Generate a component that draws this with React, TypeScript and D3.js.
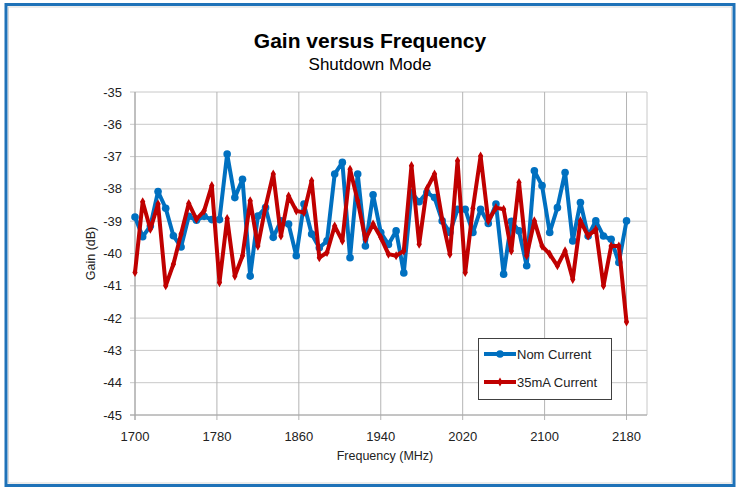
import React from "react";
import * as d3 from "d3";

const freqStart = 1700;
const freqStep = 7.5;

const nomCurrent = [
  -38.87, -39.48, -39.15, -38.08, -38.6, -39.45, -39.8, -38.85, -38.97, -38.85,
  -38.95, -38.95, -36.92, -38.27, -37.7, -40.7, -38.84, -38.58, -39.5, -38.99,
  -39.09, -40.07, -38.47, -39.4, -39.82, -39.61, -37.54, -37.18, -40.13, -37.54,
  -39.77, -38.18, -39.35, -39.72, -39.3, -40.6, -38.11, -38.4, -38.11, -38.27,
  -38.99, -39.35, -38.63, -38.63, -39.35, -38.63, -39.07, -38.47, -40.64, -39.0,
  -39.3, -40.38, -37.44, -37.9, -39.35, -38.58, -37.49, -39.61, -38.42, -39.46,
  -38.99, -39.46, -39.56, -40.28, -38.99,
];

const current35mA = [
  -40.59, -38.4, -39.25, -38.47, -41.0, -40.33, -39.4, -38.45, -38.94, -38.68,
  -37.9, -40.9, -38.92, -40.7, -40.07, -38.37, -39.77, -38.55, -37.54, -39.46,
  -38.22, -38.68, -38.73, -37.75, -40.13, -39.97, -39.15, -39.61, -37.39, -38.37,
  -39.56, -39.09, -39.5, -40.02, -40.07, -39.92, -37.28, -39.71, -38.0, -37.54,
  -38.94, -40.02, -37.13, -40.59, -38.6, -36.98, -38.99, -38.58, -38.63, -39.92,
  -37.8, -40.07, -38.99, -39.77, -40.02, -40.38, -39.92, -40.8, -38.99, -39.46,
  -39.25, -41.0, -39.77, -39.77, -42.12,
];

const xTicks = [1700, 1780, 1860, 1940, 2020, 2100, 2180];
const yTicks = [-45, -44, -43, -42, -41, -40, -39, -38, -37, -36, -35];

const seriesNames = ["Nom Current", "35mA Current"];
const seriesColors = ["#0070C0", "#C00000"];

const W = 740;
const H = 487;
const FONT = "'Liberation Sans', Arial, sans-serif";

export default function App() {
  const x = d3.scaleLinear().domain([1700, 2200]).range([135, 647]);
  const y = d3.scaleLinear().domain([-45, -35]).range([415, 92]);

  const toPts = (vals: number[]) =>
    vals.map((v, i) => [freqStart + i * freqStep, v] as [number, number]);

  const line = d3
    .line<[number, number]>()
    .x((d) => x(d[0]))
    .y((d) => y(d[1]));

  const blue = toPts(nomCurrent);
  const red = toPts(current35mA);
  const diamond = d3.symbol().type(d3.symbolDiamond).size(24)() as string;

  const [x0, x1] = x.range();
  const [yb, yt] = y.range();

  return (
    <svg
      width={W}
      height={H}
      style={{ position: "absolute", left: 0, top: 0, background: "#fff" }}
      fontFamily={FONT}
    >
      <rect x={0} y={0} width={W} height={H} fill="#fff" />
      <rect x={6} y={4.5} width={728} height={481} fill="none" stroke="#1F72B8" strokeWidth={3} />
      <rect x={8.5} y={7} width={723} height={476} fill="none" stroke="#D9D9D9" strokeWidth={1} />

      <text x={370} y={48} textAnchor="middle" fontSize={21} fontWeight="bold" fill="#000">
        Gain versus Frequency
      </text>
      <text x={370} y={70} textAnchor="middle" fontSize={17} fill="#000">
        Shutdown Mode
      </text>

      {/* grid */}
      {yTicks.map((t) => (
        <line key={"gy" + t} x1={x0 - 5} x2={x1} y1={y(t)} y2={y(t)} stroke="#C8C8C8" strokeWidth={1} />
      ))}
      {xTicks.map((t) => (
        <line key={"gx" + t} x1={x(t)} x2={x(t)} y1={yt} y2={yb + 5} stroke="#B4B4B4" strokeWidth={1} />
      ))}
      <line x1={x1} x2={x1} y1={yt} y2={yb} stroke="#C8C8C8" strokeWidth={1} />
      <line x1={x0} x2={x0} y1={yt} y2={yb + 5} stroke="#A6A6A6" strokeWidth={1} />
      <line x1={x0 - 5} x2={x1} y1={yb} y2={yb} stroke="#A6A6A6" strokeWidth={1} />

      {yTicks.map((t) => (
        <text key={"ly" + t} x={122} y={y(t) + 4.5} textAnchor="end" fontSize={13} fill="#222">
          {t}
        </text>
      ))}
      {xTicks.map((t) => (
        <text key={"lx" + t} x={x(t)} y={441} textAnchor="middle" fontSize={13} fill="#222">
          {t}
        </text>
      ))}

      <text
        x={0}
        y={0}
        transform={`translate(95, ${y(-40)}) rotate(-90)`}
        textAnchor="middle"
        fontSize={12.5}
        fill="#222"
      >
        Gain (dB)
      </text>
      <text x={385} y={460} textAnchor="middle" fontSize={12.5} fill="#222">
        Frequency (MHz)
      </text>

      {/* series */}
      <path d={line(blue) as string} fill="none" stroke={seriesColors[0]} strokeWidth={4} strokeLinejoin="round" />
      {blue.map((d, i) => (
        <circle key={"b" + i} cx={x(d[0])} cy={y(d[1])} r={3.8} fill={seriesColors[0]} />
      ))}
      <path d={line(red) as string} fill="none" stroke={seriesColors[1]} strokeWidth={4} strokeLinejoin="round" />
      {red.map((d, i) => (
        <path key={"r" + i} d={diamond} transform={`translate(${x(d[0])},${y(d[1])})`} fill={seriesColors[1]} />
      ))}

      {/* legend */}
      <rect x={478.5} y={338.5} width={133} height={61} fill="#fff" stroke="#404040" strokeWidth={1} />
      {seriesNames.map((name, i) => {
        const ly = 354 + i * 28;
        return (
          <g key={name}>
            <line x1={484} x2={516} y1={ly} y2={ly} stroke={seriesColors[i]} strokeWidth={4} />
            {i === 0 ? (
              <circle cx={500} cy={ly} r={3.8} fill={seriesColors[i]} />
            ) : (
              <path d={diamond} transform={`translate(500,${ly})`} fill={seriesColors[i]} />
            )}
            <text x={517} y={ly + 4.5} fontSize={13} fill="#222">
              {name}
            </text>
          </g>
        );
      })}
    </svg>
  );
}
